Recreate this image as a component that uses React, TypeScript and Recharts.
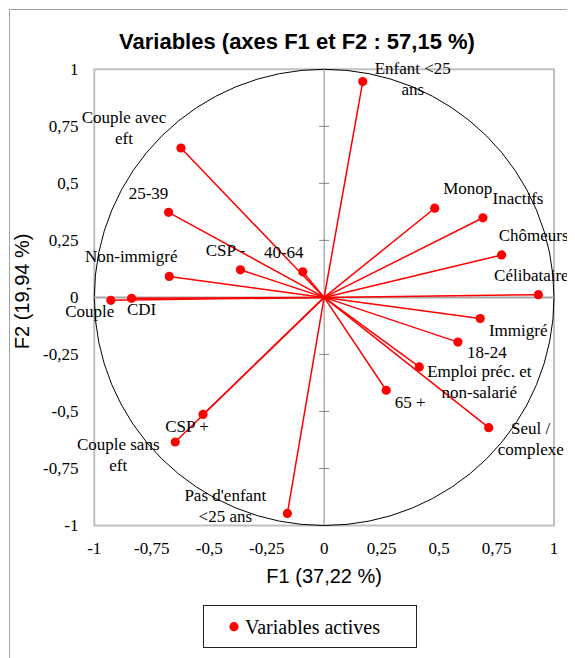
import React from "react";
import {
  ScatterChart,
  Scatter,
  XAxis,
  YAxis,
  ReferenceLine,
  ReferenceArea,
  Customized,
} from "recharts";

// ---------- data ----------
const VARIABLES = [
  "Enfant <25\nans",
  "Couple avec\neft",
  "25-39",
  "Non-immigré",
  "CSP -",
  "40-64",
  "Couple",
  "CDI",
  "Monop",
  "Inactifs",
  "Chômeurs",
  "Célibataire",
  "Immigré",
  "18-24",
  "Emploi préc. et\nnon-salarié",
  "65 +",
  "Seul /\ncomplexe",
  "CSP +",
  "Couple sans\neft",
  "Pas d'enfant\n<25 ans",
];
const F1 = [
  0.168, -0.623, -0.677, -0.674, -0.364, -0.093, -0.928, -0.838, 0.481, 0.691,
  0.772, 0.932, 0.679, 0.582, 0.414, 0.27, 0.716, -0.527, -0.648, -0.16,
];
const F2 = [
  0.946, 0.655, 0.373, 0.092, 0.121, 0.112, -0.013, -0.004, 0.391, 0.349,
  0.186, 0.012, -0.093, -0.196, -0.305, -0.407, -0.571, -0.513, -0.634, -0.947,
];
const X_TICKS = [-1, -0.75, -0.5, -0.25, 0, 0.25, 0.5, 0.75, 1];
const Y_TICKS = [-1, -0.75, -0.5, -0.25, 0, 0.25, 0.5, 0.75, 1];
const TITLE = "Variables (axes F1 et F2 : 57,15 %)";
const X_TITLE = "F1 (37,22 %)";
const Y_TITLE = "F2 (19,94 %)";
const SERIES_NAME = "Variables actives";

// ---------- layout (label placement, px offsets from the dot) ----------
const LABEL_OFFSETS: [number, number][] = [
  [50, -12.4],
  [-57, -30],
  [-20, -18.4],
  [-38, -20],
  [-15, -19.3],
  [-19, -19.3],
  [-21, 11.5],
  [10, 11.3],
  [33, -19.3],
  [35, -19],
  [32, -19],
  [-7, -19],
  [38, 12],
  [29, 11],
  [60, 4.7],
  [24, 13],
  [42, 1.6],
  [-16, 12],
  [-57, 2.7],
  [-62, -17.3],
];

const W = 567;
const H = 650;
const PLOT_LEFT = 86.3;
const PLOT_TOP = 61.3;
const PLOT_RIGHT = 546;
const PLOT_BOTTOM = 517.5;
const CX = (PLOT_LEFT + PLOT_RIGHT) / 2;
const SERIF = "'Liberation Serif', 'Times New Roman', Times, serif";
const SANS = "'Liberation Sans', Arial, Helvetica, sans-serif";
const RED = "#ff0000";
const LINE_H = 21;

const serifStyle = { fontFamily: SERIF, fontSize: 17 };

const points = VARIABLES.map((name, i) => ({ name, x: F1[i], y: F2[i], idx: i }));

const fmt = (v: number) => String(v).replace(".", ",");

const XTick = (props: any) => {
  const { x, payload } = props;
  return (
    <text x={x} y={PLOT_BOTTOM + 28} textAnchor="middle" style={serifStyle} fill="#000">
      {fmt(payload.value)}
    </text>
  );
};

const YTick = (props: any) => {
  const { y, payload } = props;
  return (
    <g>
      <text x={70.5} y={y} dy="0.33em" textAnchor="end" style={serifStyle} fill="#000">
        {fmt(payload.value)}
      </text>
      {payload.value !== 0 && Math.abs(payload.value) !== 1 ? (
        <line x1={CX - 5} x2={CX + 5} y1={y} y2={y} stroke="#868686" strokeWidth={1} />
      ) : null}
    </g>
  );
};

const CircleShape = (props: any) => {
  const { x, y, width, height } = props;
  return (
    <ellipse
      cx={x + width / 2}
      cy={y + height / 2}
      rx={Math.abs(width) / 2}
      ry={Math.abs(height) / 2}
      fill="none"
      stroke="#000"
      strokeWidth={1}
    />
  );
};

const BorderShape = (props: any) => {
  const { x, y, width, height } = props;
  return (
    <rect x={x} y={y} width={width} height={height} fill="none" stroke="#c0c0c0" strokeWidth={2} />
  );
};

const DotShape = (props: any) => {
  const { cx, cy, payload } = props;
  const i = payload.idx;
  const [dx, dy] = LABEL_OFFSETS[i];
  const lines = String(payload.name).split("\n");
  return (
    <g>
      <circle cx={cx} cy={cy} r={4.6} fill={RED} />
      {lines.map((ln: string, k: number) => (
        <text
          key={k}
          x={cx + dx}
          y={cy + dy + k * LINE_H}
          dy="0.3em"
          textAnchor="middle"
          style={serifStyle}
          fill="#000"
        >
          {ln}
        </text>
      ))}
    </g>
  );
};

const Decorations = () => (
  <g>
    <text
      x={289}
      y={40.5}
      textAnchor="middle"
      style={{ fontFamily: SANS, fontWeight: "bold", fontSize: 22 }}
      fill="#000"
    >
      {TITLE}
    </text>
    <text x={CX} y={575} textAnchor="middle" style={{ fontFamily: SANS, fontSize: 20 }} fill="#000">
      {X_TITLE}
    </text>
    <text
      x={21}
      y={(PLOT_TOP + PLOT_BOTTOM) / 2 - 6}
      textAnchor="middle"
      style={{ fontFamily: SANS, fontSize: 20 }}
      fill="#000"
      transform={`rotate(-90 21 ${(PLOT_TOP + PLOT_BOTTOM) / 2 - 6})`}
    >
      {Y_TITLE}
    </text>
    <g>
      <rect x={195.5} y={597.5} width={213} height={42} fill="#fff" stroke="#202020" strokeWidth={1} />
      <circle cx={226} cy={618.7} r={4.6} fill={RED} />
      <text x={237} y={625.5} style={{ fontFamily: SERIF, fontSize: 20 }} fill="#000">
        {SERIES_NAME}
      </text>
    </g>
  </g>
);

export default function App() {
  return (
    <div style={{ position: "relative", width: W, height: H, overflow: "hidden", background: "#fff" }}>
      <div
        style={{
          position: "absolute",
          left: 1,
          top: 1,
          width: 700,
          height: 800,
          borderLeft: "1.5px solid #a0a0a0",
          borderTop: "1.5px solid #a0a0a0",
          boxSizing: "border-box",
        }}
      />
      <div style={{ position: "absolute", left: 0, top: 0 }}>
        <ScatterChart
          width={W}
          height={H}
          margin={{
            top: PLOT_TOP,
            right: W - PLOT_RIGHT,
            bottom: H - PLOT_BOTTOM - 40,
            left: PLOT_LEFT - 60,
          }}
        >
          <XAxis
            type="number"
            dataKey="x"
            domain={[-1, 1]}
            ticks={X_TICKS}
            axisLine={false}
            tickLine={false}
            tick={XTick}
            height={40}
            interval={0}
          />
          <YAxis
            type="number"
            dataKey="y"
            domain={[-1, 1]}
            ticks={Y_TICKS}
            axisLine={false}
            tickLine={false}
            tick={YTick}
            width={60}
            interval={0}
          />
          <ReferenceArea x1={-1} x2={1} y1={-1} y2={1} shape={BorderShape} ifOverflow="visible" />
          <ReferenceArea x1={-1} x2={1} y1={-1} y2={1} shape={CircleShape} ifOverflow="visible" />
          <ReferenceLine x={0} stroke="#868686" strokeWidth={1} />
          <ReferenceLine y={0} stroke="#a6a6a6" strokeWidth={2} />
          {points.map((p) => (
            <ReferenceLine
              key={p.idx}
              segment={[
                { x: 0, y: 0 },
                { x: p.x, y: p.y },
              ]}
              stroke={RED}
              strokeWidth={1.5}
              ifOverflow="visible"
            />
          ))}
          <Scatter
            name={SERIES_NAME}
            data={points}
            fill={RED}
            shape={DotShape}
            isAnimationActive={false}
          />
          <Customized component={Decorations} />
        </ScatterChart>
      </div>
    </div>
  );
}
